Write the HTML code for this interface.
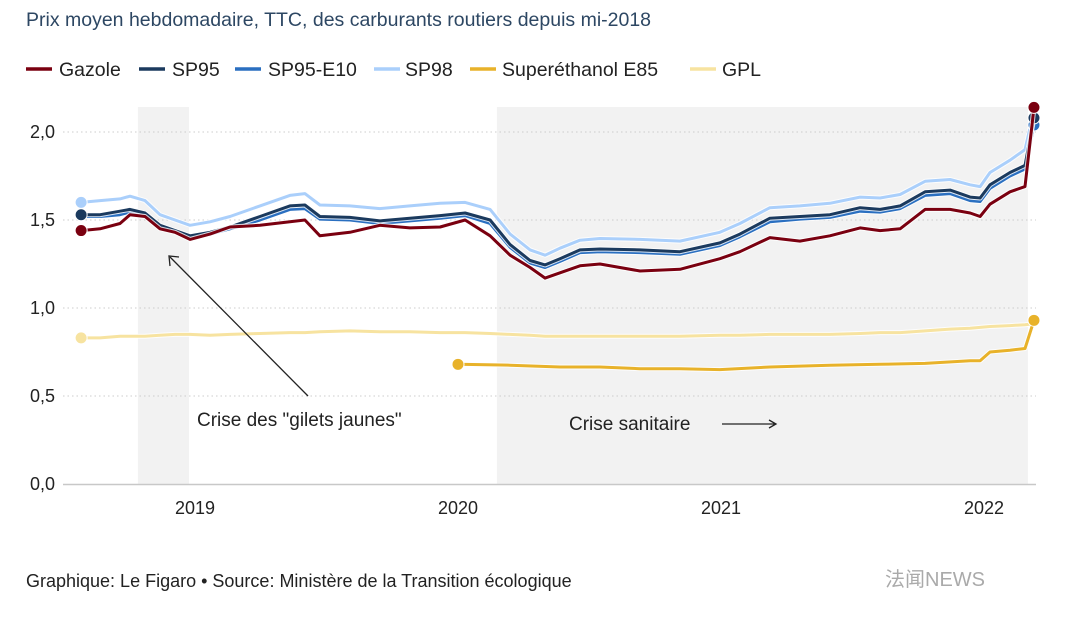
<!DOCTYPE html>
<html><head><meta charset="utf-8"><style>
body{margin:0;background:#fff;font-family:"Liberation Sans","Noto Sans CJK SC",sans-serif;}
svg text{font-family:"Liberation Sans","Noto Sans CJK SC",sans-serif;}
</style></head><body>
<svg id="c" width="1080" height="624" viewBox="0 0 1080 624">
<text x="26" y="26" font-size="19.5" fill="#2d4763">Prix moyen hebdomadaire, TTC, des carburants routiers depuis mi-2018</text>
<g id="legend"></g>
<g id="plot"></g>
<text x="26" y="587" font-size="18" fill="#222">Graphique: Le Figaro • Source: Ministère de la Transition écologique</text>
<text x="885" y="586" font-size="20" fill="#aaa">法闻NEWS</text>
</svg>
<script>
const dates=[2018.567,2018.639,2018.715,2018.753,2018.810,2018.867,2018.924,2018.981,2019.057,2019.133,2019.247,2019.361,2019.418,2019.475,2019.589,2019.703,2019.817,2019.932,2020.027,2020.122,2020.198,2020.274,2020.331,2020.388,2020.464,2020.540,2020.692,2020.844,2020.996,2021.072,2021.186,2021.300,2021.414,2021.529,2021.605,2021.681,2021.776,2021.871,2021.947,2021.985,2022.023,2022.099,2022.156,2022.190];
const gazole=[1.44,1.45,1.48,1.53,1.52,1.45,1.43,1.39,1.42,1.46,1.47,1.49,1.50,1.41,1.43,1.47,1.455,1.46,1.50,1.41,1.30,1.23,1.17,1.20,1.24,1.25,1.21,1.22,1.28,1.32,1.40,1.38,1.41,1.455,1.44,1.45,1.56,1.56,1.54,1.52,1.59,1.66,1.69,2.14];
const sp95=[1.53,1.53,1.55,1.56,1.54,1.47,1.44,1.41,1.43,1.46,1.52,1.58,1.585,1.52,1.515,1.495,1.51,1.525,1.54,1.50,1.36,1.27,1.245,1.28,1.33,1.335,1.33,1.32,1.37,1.42,1.51,1.52,1.53,1.57,1.56,1.58,1.66,1.67,1.63,1.625,1.70,1.77,1.81,2.08];
const e10=[1.52,1.52,1.53,1.545,1.53,1.46,1.43,1.40,1.42,1.45,1.50,1.56,1.565,1.505,1.50,1.48,1.495,1.51,1.525,1.48,1.345,1.255,1.23,1.265,1.315,1.32,1.315,1.305,1.355,1.405,1.49,1.505,1.515,1.55,1.545,1.565,1.64,1.65,1.61,1.605,1.68,1.75,1.79,2.04];
const sp98=[1.60,1.61,1.62,1.635,1.61,1.53,1.50,1.47,1.49,1.52,1.58,1.64,1.65,1.585,1.58,1.565,1.58,1.595,1.60,1.56,1.42,1.33,1.30,1.34,1.385,1.395,1.39,1.38,1.43,1.48,1.57,1.58,1.595,1.63,1.625,1.645,1.72,1.73,1.70,1.69,1.77,1.84,1.90,2.12];
const gpl=[0.83,0.83,0.84,0.84,0.84,0.845,0.85,0.85,0.845,0.85,0.855,0.86,0.86,0.865,0.87,0.865,0.865,0.86,0.86,0.855,0.85,0.845,0.84,0.84,0.84,0.84,0.84,0.84,0.845,0.845,0.85,0.85,0.85,0.855,0.86,0.86,0.87,0.88,0.885,0.89,0.895,0.90,0.905,0.91];
const e85Dates=[2020.0,2020.198,2020.388,2020.54,2020.692,2020.844,2020.996,2021.186,2021.414,2021.605,2021.776,2021.947,2021.985,2022.023,2022.099,2022.156,2022.19];
const e85=[0.68,0.675,0.665,0.665,0.655,0.655,0.65,0.665,0.675,0.68,0.685,0.70,0.70,0.75,0.76,0.77,0.93];
const yTicks=[0,0.5,1,1.5,2];
const yTickLabels=["0,0","0,5","1,0","1,5","2,0"];
const xTicks=[2019,2020,2021,2022];
const shades=[[2018.783,2018.977],[2020.148,2022.167]];

const NS="http://www.w3.org/2000/svg";
const X=t=>195+(t-2019)*263;
const Y=v=>484-v*176;
function mk(tag,attrs,parent){const e=document.createElementNS(NS,tag);for(const k in attrs)e.setAttribute(k,attrs[k]);parent.appendChild(e);return e;}
const plot=document.getElementById('plot');
shades.forEach((s,i)=>{const r=mk('rect',{x:X(s[0]),y:107,width:X(s[1])-X(s[0]),height:377,fill:'#f2f2f2'},plot);

});
yTicks.forEach((v,i)=>{
 if(v>0){const l=mk('line',{x1:63,x2:1036,y1:Y(v),y2:Y(v),stroke:'#ccc','stroke-dasharray':'1.5 3'},plot);
 
 }
 const t=mk('text',{x:55,y:Y(v)+6,'text-anchor':'end','font-size':18,fill:'#222'},plot);t.textContent=yTickLabels[i];
 
 
});
const ax=mk('line',{x1:63,x2:1036,y1:484.5,y2:484.5,stroke:'#c8c8c8','stroke-width':1.5},plot);


xTicks.forEach(t=>{
const tx=mk('text',{x:X(t),y:514,'text-anchor':'middle','font-size':18,fill:'#222'},plot);tx.textContent=t;

});
const series=[
 {n:'GPL',d:dates,v:gpl,c:'#f7e3a0',start:true,end:false},
 {n:'Superéthanol E85',d:e85Dates,v:e85,c:'#e8b22a',start:true,end:true},
 {n:'SP98',d:dates,v:sp98,c:'#aacffb',start:true,end:false},
 {n:'SP95-E10',d:dates,v:e10,c:'#2a6fc0',start:false,end:true},
 {n:'SP95',d:dates,v:sp95,c:'#1b3a5e',start:true,end:true},
 {n:'Gazole',d:dates,v:gazole,c:'#7a0010',start:true,end:true}];
series.forEach(s=>{
 const pts=s.d.map((t,i)=>X(t).toFixed(1)+','+Y(s.v[i]).toFixed(1)).join(' ');
 const h=mk('polyline',{points:pts,fill:'none',stroke:'#fff','stroke-width':5,'stroke-linejoin':'round',opacity:0.8},plot);
 
 
 const p=mk('polyline',{points:pts,fill:'none',stroke:s.c,'stroke-width':3,'stroke-linejoin':'round'},plot);
 
 
 const idx=[];if(s.start)idx.push(0);if(s.end)idx.push(s.d.length-1);
 idx.forEach(i=>{const c=mk('circle',{cx:X(s.d[i]),cy:Y(s.v[i]),r:6,fill:s.c,stroke:'#fff','stroke-width':1},plot);
 
 });
});
const a1=mk('line',{x1:308,y1:396,x2:170,y2:257,stroke:'#222','stroke-width':1.3},plot);


const h1=mk('path',{d:'M170 266 L169 256 L179 257',fill:'none',stroke:'#222','stroke-width':1.3},plot);


const t1=mk('text',{x:197,y:426,'font-size':19,fill:'#222'},plot);t1.textContent='Crise des "gilets jaunes"';


const t2=mk('text',{x:569,y:430,'font-size':19,fill:'#222'},plot);t2.textContent='Crise sanitaire';


const a2=mk('path',{d:'M722 424 L776 424 M769 420 L776 424 L769 428',fill:'none',stroke:'#222','stroke-width':1.3},plot);


const leg=document.getElementById('legend');
const legItems=[['Gazole','#7a0010',26,59],['SP95','#1b3a5e',139,172],['SP95-E10','#2a6fc0',235,268],['SP98','#aacffb',374,405],['Superéthanol E85','#e8b22a',470,502],['GPL','#f7e3a0',690,722]];
legItems.forEach(it=>{const g=mk('g',{},leg);
 
 
 mk('line',{x1:it[2],x2:it[2]+26,y1:69,y2:69,stroke:it[1],'stroke-width':3.5},g);
 const t=mk('text',{x:it[3],y:76,'font-size':19.5,fill:'#222'},g);t.textContent=it[0];});
</script>
</body></html>
